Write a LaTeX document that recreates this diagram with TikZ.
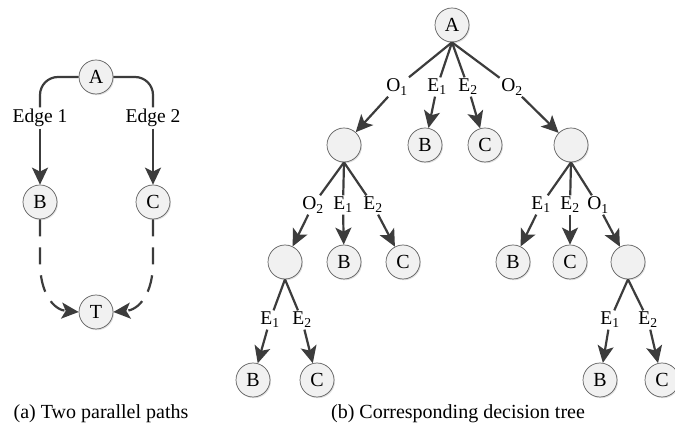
\documentclass[tikz,border=0pt]{standalone}
\usepackage{fontspec}
\setmainfont{Liberation Serif}
\usetikzlibrary{arrows.meta,shadows}
\definecolor{lnc}{HTML}{3C3C3C}
\definecolor{ndc}{HTML}{F1F1F1}
\begin{document}
\begin{tikzpicture}[x=1pt,y=-1pt,
  st/.style={circle,draw=gray!75!black,line width=0.7pt,fill=ndc,minimum size=34pt,inner sep=0pt,
    font=\fontsize{20}{22}\selectfont,
    drop shadow={shadow xshift=1pt,shadow yshift=-1.2pt,opacity=0.25}},
  lab/.style={inner sep=1.5pt,font=\fontsize{19.5}{22}\selectfont},
  ln/.style={draw=lnc,line width=2.2pt},
  arr/.style={ln,-{Stealth[length=17pt,width=16pt,inset=4pt]}},
  capt/.style={font=\fontsize{20}{24}\selectfont}]
\useasboundingbox (0,0) rectangle (675,427);
\clip (0,0) rectangle (675,427);
\fill[white] (0,0) rectangle (675,427);

% (a) two parallel paths
\node[st] (a0) at (96,77) {A};
\node[st] (b0) at (40,202) {B};
\node[st] (c0) at (153,202) {C};
\node[st] (t0) at (96,312) {T};
\node[lab] (e1) at (40,118) {Edge 1};
\node[lab] (e2) at (153,118) {Edge 2};
\draw[ln,rounded corners=18pt] (a0.west) -| (e1.north);
\draw[ln,rounded corners=18pt] (a0.east) -| (e2.north);
\draw[arr] (e1.south) -- (b0.north);
\draw[arr] (e2.south) -- (c0.north);
\draw[arr,dash pattern=on 17pt off 11pt] (b0.south) -- (40,262) .. controls (40,294) and (54,310) .. (t0.west);
\draw[arr,dash pattern=on 17pt off 11pt] (c0.south) -- (153,262) .. controls (153,294) and (139,310) .. (t0.east);

% (b) decision tree
\node[st] (r) at (452,25) {A};
\node[lab] (r1) at (397,87) {O\textsubscript{1}};
\node[lab] (r2) at (437,87) {E\textsubscript{1}};
\node[lab] (r3) at (468,87) {E\textsubscript{2}};
\node[lab] (r4) at (512,87) {O\textsubscript{2}};
\node[st] (n1) at (344,145) {};
\node[st] (rb) at (425,145) {B};
\node[st] (rc) at (485,145) {C};
\node[st] (n2) at (571,145) {};
\foreach \l in {r1,r2,r3,r4} \draw[ln] (r.south) -- (\l);
\draw[arr] (r1) -- (n1);
\draw[arr] (r2) -- (rb);
\draw[arr] (r3) -- (rc);
\draw[arr] (r4) -- (n2);

\node[lab] (l11) at (313,205) {O\textsubscript{2}};
\node[lab] (l12) at (343,205) {E\textsubscript{1}};
\node[lab] (l13) at (373,205) {E\textsubscript{2}};
\node[st] (n11) at (285,262) {};
\node[st] (n1b) at (344,262) {B};
\node[st] (n1c) at (403,262) {C};
\foreach \l in {l11,l12,l13} \draw[ln] (n1.south) -- (\l);
\draw[arr] (l11) -- (n11);
\draw[arr] (l12) -- (n1b);
\draw[arr] (l13) -- (n1c);

\node[lab] (l21) at (541,205) {E\textsubscript{1}};
\node[lab] (l22) at (570,205) {E\textsubscript{2}};
\node[lab] (l23) at (598,205) {O\textsubscript{1}};
\node[st] (n2b) at (513,262) {B};
\node[st] (n2c) at (570,262) {C};
\node[st] (n23) at (628,262) {};
\foreach \l in {l21,l22,l23} \draw[ln] (n2.south) -- (\l);
\draw[arr] (l21) -- (n2b);
\draw[arr] (l22) -- (n2c);
\draw[arr] (l23) -- (n23);

\node[lab] (l111) at (270,320) {E\textsubscript{1}};
\node[lab] (l112) at (302,320) {E\textsubscript{2}};
\node[st] (n11b) at (253,380) {B};
\node[st] (n11c) at (317,380) {C};
\foreach \l in {l111,l112} \draw[ln] (n11.south) -- (\l);
\draw[arr] (l111) -- (n11b);
\draw[arr] (l112) -- (n11c);

\node[lab] (l231) at (610,320) {E\textsubscript{1}};
\node[lab] (l232) at (648,320) {E\textsubscript{2}};
\node[st] (n23b) at (600,380) {B};
\node[st] (n23c) at (662,380) {C};
\foreach \l in {l231,l232} \draw[ln] (n23.south) -- (\l);
\draw[arr] (l231) -- (n23b);
\draw[arr] (l232) -- (n23c);

% captions
\node[capt] (ca) at (101,414) {(a) Two parallel paths};
\node[capt] (cb) at (458,414) {(b) Corresponding decision tree};
\end{tikzpicture}
\end{document}
